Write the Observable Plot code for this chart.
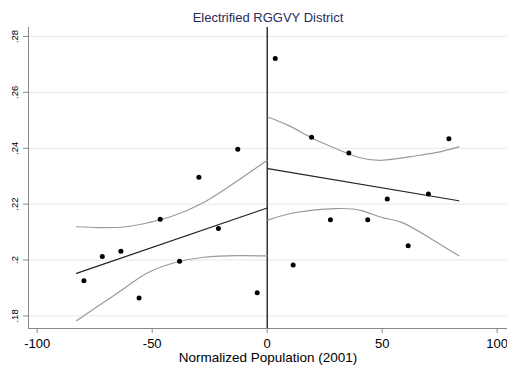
<!DOCTYPE html>
<html>
<head>
<meta charset="utf-8">
<script src="https://cdn.jsdelivr.net/npm/d3@7"></script>
<script src="https://cdn.jsdelivr.net/npm/@observablehq/plot@0.6"></script>
<style>
  html, body { margin: 0; padding: 0; background: #fff; }
  #chart svg { display: block; }
</style>
</head>
<body>
<div id="chart"></div>
<script>
const title = "Electrified RGGVY District";
const xLabel = "Normalized Population (2001)";
const xTicks = [-100, -50, 0, 50, 100];
const yTicks = [0.18, 0.20, 0.22, 0.24, 0.26, 0.28];

// scatter points
const leftX = [-79.7, -71.7, -63.6, -55.7, -46.5, -38.1, -29.7, -21.2, -12.8, -4.35];
const leftY = [0.1926, 0.2013, 0.2031, 0.1864, 0.2146, 0.1996, 0.2296, 0.2113, 0.2396, 0.1883];
const rightX = [3.5, 11.3, 19.3, 27.5, 35.5, 43.7, 52.2, 61.3, 70.1, 79];
const rightY = [0.2721, 0.1982, 0.2439, 0.2144, 0.2383, 0.2144, 0.2218, 0.2051, 0.2236, 0.2434];

// fitted lines
const leftFitX = [-82.9, 0];
const leftFitY = [0.1952, 0.2186];
const rightFitX = [0.3, 83.3];
const rightFitY = [0.2327, 0.2212];

// confidence bands
const leftUpX = [-82.9, -73.2, -61.6, -51.5, -42, -27.6, -13, 0];
const leftUpY = [0.2119, 0.2116, 0.2119, 0.2134, 0.2155, 0.2206, 0.2283, 0.2357];
const leftLoX = [-82.9, -73.2, -61.6, -51.5, -39.9, -27.6, -13, 0];
const leftLoY = [0.1783, 0.1837, 0.1902, 0.1956, 0.1991, 0.2010, 0.2016, 0.2015];
const rightUpX = [0.3, 9.6, 19.7, 29.8, 40, 50.1, 61.6, 73.2, 83.3];
const rightUpY = [0.2512, 0.2480, 0.2436, 0.2399, 0.2367, 0.2357, 0.2369, 0.2384, 0.2405];
const rightLoX = [0.3, 12.5, 29.8, 41.4, 50.1, 58.7, 70.3, 83.3];
const rightLoY = [0.2143, 0.2170, 0.2184, 0.2176, 0.2152, 0.2134, 0.2081, 0.2015];

const zip = (xs, ys) => xs.map((x, i) => ({x, y: ys[i]}));
const points = [...zip(leftX, leftY), ...zip(rightX, rightY)];
const fmtY = d => d3.format(".2f")(d).replace(/^0/, "").replace(/0$/, "");

const chart = Plot.plot({
  width: 507,
  height: 367,
  marginLeft: 28,
  marginRight: 0,
  marginTop: 27,
  marginBottom: 39,
  style: {fontFamily: "'Liberation Sans', Arial, Helvetica, sans-serif", fontSize: "11px", color: "#000", background: "#fff"},
  x: {domain: [-103.78, 104.48]},
  y: {domain: [0.1755, 0.2832]},
  marks: [
    Plot.gridY(yTicks, {stroke: "#dfeaea", strokeOpacity: 1, strokeWidth: 1}),
    Plot.ruleX([0], {stroke: "#000", strokeWidth: 1.2}),
    Plot.line(zip(leftUpX, leftUpY), {x: "x", y: "y", curve: "natural", stroke: "#9a9a9a", strokeWidth: 1.2}),
    Plot.line(zip(leftLoX, leftLoY), {x: "x", y: "y", curve: "natural", stroke: "#9a9a9a", strokeWidth: 1.2}),
    Plot.line(zip(rightUpX, rightUpY), {x: "x", y: "y", curve: "natural", stroke: "#9a9a9a", strokeWidth: 1.2}),
    Plot.line(zip(rightLoX, rightLoY), {x: "x", y: "y", curve: "natural", stroke: "#9a9a9a", strokeWidth: 1.2}),
    Plot.line(zip(leftFitX, leftFitY), {x: "x", y: "y", stroke: "#222", strokeWidth: 1.2}),
    Plot.line(zip(rightFitX, rightFitY), {x: "x", y: "y", stroke: "#222", strokeWidth: 1.2}),
    Plot.dot(points, {x: "x", y: "y", r: 2.5, fill: "#000", stroke: "none"}),
    Plot.axisX({ticks: xTicks, tickSize: 5, tickFormat: () => "", stroke: "#888", label: null}),
    Plot.axisY({ticks: yTicks, tickSize: 5, tickFormat: () => "", stroke: "#888", label: null}),
    Plot.text(xTicks, {x: d => d, text: d => String(d).replace("-", "-"), frameAnchor: "bottom", lineAnchor: "middle", dy: 15, fontSize: 13, fill: "#000"}),
    Plot.text(yTicks, {y: d => d, text: fmtY, frameAnchor: "left", dx: -14, rotate: -90, textAnchor: "middle", lineAnchor: "middle", fontSize: 9.5, fill: "#000"}),
    Plot.ruleX([-103.78], {stroke: "#888", strokeWidth: 1}),
    Plot.ruleY([0.1755], {stroke: "#888", strokeWidth: 1}),
    Plot.text([xLabel], {frameAnchor: "bottom", lineAnchor: "middle", dy: 29, fontSize: 13.5, fill: "#000"}),
    Plot.text([title], {frameAnchor: "top", lineAnchor: "middle", dy: -10, fontSize: 13, fill: "#1f2d5c"})
  ]
});
document.getElementById("chart").appendChild(chart);
</script>
</body>
</html>
